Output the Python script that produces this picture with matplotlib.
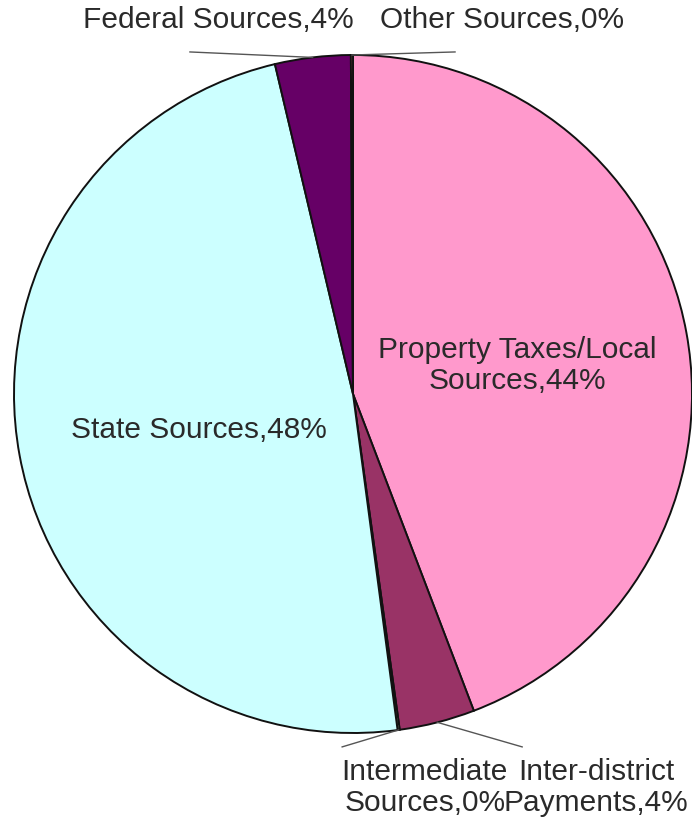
import numpy as np
import matplotlib
matplotlib.use("Agg")
import matplotlib.pyplot as plt

plt.rcParams["font.family"] = ["Liberation Sans", "DejaVu Sans"]

# Revenue sources, share of total (%), clockwise from 12 o'clock
sources = [
    "Property Taxes/Local\nSources",
    "Inter-district\nPayments",
    "Intermediate\nSources",
    "State Sources",
    "Federal Sources",
    "Other Sources",
]
shares = [44.2, 3.6, 0.1, 48.4, 3.6, 0.1]
colours = ["#FF99CC", "#993366", "#FFFFCC", "#CCFFFF", "#660066", "#FF8080"]

# label centre (data units, pie radius = 1) and whether it gets a leader line
label_pos = [
    (0.484, 0.085, False),
    (0.717, -1.160, True),
    (0.212, -1.160, True),
    (-0.454, -0.106, False),
    (-0.398, 1.103, True),
    (0.440, 1.103, True),
]
# where the leader line starts next to the text
leader_start = [
    None,
    (0.499, -1.041),
    (-0.032, -1.041),
    None,
    (-0.481, 1.009),
    (0.301, 1.009),
]

W, H = 692, 817
fig = plt.figure(figsize=(W / 100, H / 100), dpi=100)
fig.patch.set_facecolor("white")

# pie centre and radius in pixels
cx, cy, r = 353, 394, 339
ax = fig.add_axes([(cx - r) / W, (H - cy - r) / H, 2 * r / W, 2 * r / H])

wedges, _ = ax.pie(
    shares, colors=colours, startangle=90, counterclock=False, radius=1,
    wedgeprops=dict(edgecolor="#111111", linewidth=1.4),
)
for w in wedges:
    w.set_clip_on(False)

# pie() resets the limits, so set them afterwards
ax.set_xlim(-1, 1)
ax.set_ylim(-1, 1)
ax.set_aspect("equal")
ax.axis("off")

for w, name, val, (lx, ly, lead), start in zip(wedges, sources, shares,
                                                label_pos, leader_start):
    text = f"{name},{val:.0f}%"
    ax.text(lx, ly, text, ha="center", va="center", fontsize=21.5,
            color="#2a2a2a", linespacing=1.15, clip_on=False)
    if lead:
        mid = np.deg2rad((w.theta1 + w.theta2) / 2)
        ex, ey = np.cos(mid), np.sin(mid)
        ax.plot([start[0], ex], [start[1], ey], color="#555555",
                linewidth=1.0, clip_on=False)

fig.savefig("out.png", dpi=100)
